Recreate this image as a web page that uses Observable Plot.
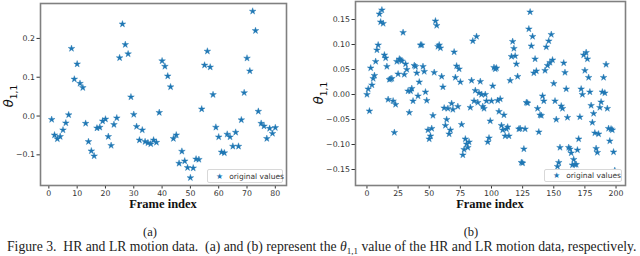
<!DOCTYPE html>
<html><head><meta charset="utf-8">
<script src="https://cdn.jsdelivr.net/npm/d3@7"></script>
<script src="https://cdn.jsdelivr.net/npm/@observablehq/plot@0.6"></script>
<style>
body{margin:0;background:#fff;}
#root{position:relative;width:640px;height:256px;overflow:hidden;background:#fff;}
.panel{position:absolute;top:0;}
.ylab{position:absolute;font-family:"DejaVu Sans";font-style:italic;font-size:13px;transform:translate(-50%,-50%) rotate(-90deg);white-space:nowrap;color:#111;}
.ylab sub{font-size:9px;font-style:normal;}
.xlab{position:absolute;font-family:"Liberation Serif";font-weight:bold;font-size:12.5px;transform:translate(-50%,-50%);white-space:nowrap;color:#111;}
.sub{position:absolute;font-family:"Liberation Serif";font-size:12.5px;transform:translate(-50%,-50%);color:#222;}
.cap{position:absolute;font-family:"Liberation Serif";font-weight:normal;font-size:13.7px;line-height:14px;white-space:pre;color:#222;transform:translateY(-50%);}
.cap sub{font-size:9px;font-style:normal;}
.legend{position:absolute;border:1px solid #d8d8d8;border-radius:2px;background:#fff;font-family:"DejaVu Sans";font-size:7.5px;color:#333;display:flex;align-items:center;box-sizing:border-box;white-space:nowrap;}
.legend .st{color:#1f77b4;font-size:8px;margin:0 6px 0 8px;}
</style></head>
<body>
<div id="root"></div>
<script>
// ---- Data ----
const valuesA = [-0.009,-0.049,-0.059,-0.053,-0.036,-0.018,0.003,0.174,0.095,0.134,
0.084,0.073,-0.019,-0.066,-0.090,-0.103,-0.031,-0.029,-0.013,-0.008,
-0.053,-0.076,-0.022,-0.005,0.150,0.237,0.184,0.160,0.049,0.004,
-0.027,-0.062,-0.036,-0.066,-0.069,-0.072,-0.062,-0.068,0.009,0.142,
0.128,0.103,0.075,-0.058,-0.049,-0.122,-0.091,-0.116,-0.133,-0.159,
-0.134,-0.111,-0.112,0.018,0.131,0.167,0.126,0.055,-0.029,-0.054,
-0.093,-0.095,-0.047,-0.054,-0.078,-0.042,-0.078,-0.010,0.060,0.149,
0.116,0.270,0.220,0.012,-0.019,-0.026,-0.058,-0.032,-0.045,-0.030];

const valuesB = [0.000,0.011,-0.033,0.053,0.019,0.032,0.038,0.066,0.089,0.099,
0.161,0.145,0.169,0.142,0.079,0.073,0.056,-0.010,0.030,0.031,
0.032,-0.013,-0.076,-0.020,0.066,0.041,0.071,0.069,0.067,0.124,
0.040,0.061,0.050,0.007,-0.036,0.007,0.012,-0.013,0.058,0.056,
0.043,-0.003,0.025,0.099,0.099,0.056,0.046,0.005,-0.012,-0.071,
-0.089,-0.083,-0.068,-0.042,0.044,0.147,0.138,0.096,0.099,0.093,
0.036,0.015,-0.027,-0.062,-0.050,-0.028,-0.079,-0.071,-0.018,-0.030,
0.085,0.034,0.057,-0.024,0.051,0.025,-0.060,-0.121,-0.110,-0.089,
-0.099,-0.106,-0.095,-0.026,0.028,0.107,-0.013,0.008,0.116,-0.016,
0.003,0.026,0.000,-0.024,-0.028,0.000,-0.013,-0.095,-0.087,-0.053,
-0.013,0.017,0.054,0.051,0.053,-0.012,-0.034,-0.009,-0.062,-0.071,
-0.041,-0.083,-0.069,-0.065,-0.083,0.028,0.076,0.106,0.092,0.077,
0.061,0.036,-0.069,-0.068,-0.136,-0.137,-0.109,-0.069,-0.016,-0.017,
0.131,0.165,0.097,0.116,0.043,0.071,0.047,-0.028,-0.075,-0.041,
-0.042,-0.003,-0.013,0.048,0.095,0.058,0.107,0.064,0.120,0.069,
0.022,-0.013,-0.050,-0.144,-0.136,-0.106,-0.023,-0.028,0.063,0.044,
0.011,-0.046,-0.106,-0.109,-0.117,-0.141,-0.130,-0.140,-0.140,-0.111,
-0.089,-0.045,0.011,0.000,0.079,0.048,0.084,0.071,0.034,0.005,
-0.022,-0.056,-0.038,-0.077,-0.108,-0.116,-0.079,-0.026,-0.015,0.005,
0.034,0.003,0.060,-0.028,-0.068,-0.093,-0.069,-0.071,-0.115,-0.152];

const xTicksA = [0,10,20,30,40,50,60,70,80];
const yTicksA = [-0.1,0.0,0.1,0.2];
const xTicksB = [0,25,50,75,100,125,150,175,200];
const yTicksB = [-0.15,-0.10,-0.05,0.00,0.05,0.10,0.15];
const seriesLabel = "original values";
const xTitle = "Frame index";
const caption = "Figure 3.  HR and LR motion data.  (a) and (b) represent the <i>θ</i><sub>1,1</sub> value of the HR and LR motion data, respectively.";

const dataA = valuesA.map((v,i)=>({frame:i+1, value:v}));
const dataB = valuesB.map((v,i)=>({frame:i, value:v}));

const blue = "#1f77b4";
const root = document.getElementById("root");

function panel(data, opts){
  return Plot.plot({
    width: opts.width, height: 200,
    marginLeft: opts.ml, marginRight: opts.mr, marginTop: opts.mt, marginBottom: 15,
    style:{fontFamily:"DejaVu Sans", fontSize:"7.8px", color:"#333", background:"transparent"},
    x:{domain: opts.xd},
    y:{domain: opts.yd},
    marks:[
      Plot.axisX({ticks: opts.xt, tickSize:3.5, tickPadding:1.5, label:null, tickFormat:d3.format("d")}),
      Plot.axisY({ticks: opts.yt, tickSize:3.5, tickPadding:2, label:null, tickFormat:d3.format(opts.yf)}),
      Plot.dot(data, {x:"frame", y:"value", symbol:"star", fill:blue, stroke:blue, strokeWidth:0.4, r:2.1}),
      Plot.frame({stroke:"#808080", strokeWidth:1.6})
    ]
  });
}

const svgA = panel(dataA, {width:300, ml:40, mr:14, mt:3, xd:[-2.95,83.95], yd:[-0.179,0.29], xt:xTicksA, yt:yTicksA, yf:".1f"});
svgA.classList.add("panel"); svgA.style.left = "0px";
root.appendChild(svgA);

const svgB = panel(dataB, {width:320, ml:35, mr:15, mt:1, xd:[-9.2,207.6], yd:[-0.182,0.186], xt:xTicksB, yt:yTicksB, yf:".2f"});
svgB.classList.add("panel"); svgB.style.left = "320px";
root.appendChild(svgB);

function addDiv(cls, html, x, y, extra){
  const d = document.createElement("div");
  d.className = cls; d.innerHTML = html;
  d.style.left = x + "px"; d.style.top = y + "px";
  if (extra) Object.assign(d.style, extra);
  root.appendChild(d);
  return d;
}
addDiv("ylab", "θ<sub>1,1</sub>", 10, 96);
addDiv("ylab", "θ<sub>1,1</sub>", 320, 93);
addDiv("xlab", xTitle, 163, 204);
addDiv("xlab", xTitle, 490, 204);
addDiv("legend", `<span class="st">★</span>${seriesLabel}`, 207, 169, {width:"76px", height:"14px"});
addDiv("legend", `<span class="st">★</span>${seriesLabel}`, 544, 169, {width:"78px", height:"13px"});
addDiv("sub", "(a)", 150, 232);
addDiv("sub", "(b)", 471, 232);
addDiv("cap", caption, 7, 249);
</script>
</body></html>
